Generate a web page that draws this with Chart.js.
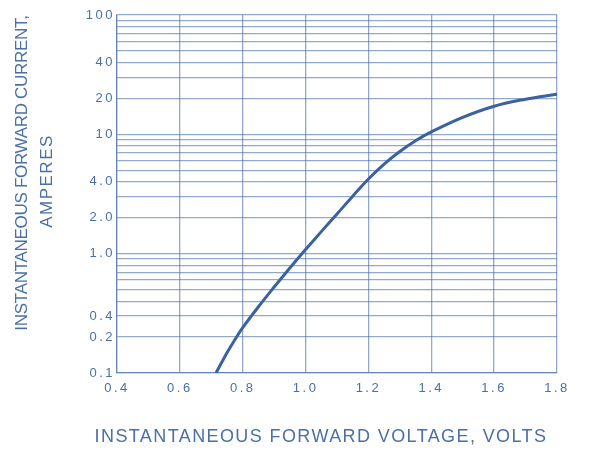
<!DOCTYPE html>
<html>
<head>
<meta charset="utf-8">
<script src="https://cdn.jsdelivr.net/npm/chart.js@4/dist/chart.umd.min.js"></script>
<style>
  html, body { margin: 0; padding: 0; background: #fff; }
  #wrap { width: 596px; height: 450px; }
</style>
</head>
<body>
<div id="wrap"><canvas id="curva"></canvas></div>
<script>
// dados
const tensao = [0.715, 0.75, 0.775, 0.8, 0.85, 0.9, 0.95, 1.0, 1.05, 1.1, 1.15, 1.2, 1.25, 1.3, 1.35, 1.4, 1.5, 1.6, 1.7, 1.8];
const corrente = [0.1, 0.148, 0.19, 0.24, 0.359, 0.525, 0.759, 1.084, 1.53, 2.15, 3.03, 4.23, 5.64, 7.18, 8.83, 10.47, 13.87, 17.2, 19.7, 21.7];

// rotulos do eixo y (como aparecem no original)
const yValores = [0.1, 0.2, 0.3, 1, 2, 4, 10, 20, 40, 100];
const yRotulos = ['0.1', '0.2', '0.4', '1.0', '2.0', '4.0', '10', '20', '40', '100'];
const xRotulos = ['0.4', '0.6', '0.8', '1.0', '1.2', '1.4', '1.6', '1.8'];

const tituloX = 'INSTANTANEOUS FORWARD VOLTAGE, VOLTS';
const tituloY = ['INSTANTANEOUS FORWARD CURRENT,', 'AMPERES'];

const corTexto = '#4a70a6';
const corGrade = 'rgba(74, 112, 170, 0.6)';

// linhas da grade: 1..9 em cada decada
const grade = [];
for (let e = -1; e <= 1; e++) {
    for (let m = 1; m <= 9; m++) {
        grade.push(e < 0 ? m / Math.pow(10, -e) : m * Math.pow(10, e));
    }
}
grade.push(100);

// titulos desenhados a mao (espacamento entre letras)
const titulos = {
    id: 'titulos',
    beforeDraw(chart) {
        chart.ctx.letterSpacing = '2.5px';
    },
    afterDraw(chart) {
        const ctx = chart.ctx;
        ctx.save();
        ctx.fillStyle = corTexto;
        ctx.textAlign = 'center';
        ctx.textBaseline = 'middle';
        ctx.font = '18px "Liberation Sans", Arial, sans-serif';
        ctx.letterSpacing = '1.4px';
        ctx.fillText(tituloX, 321, 437);

        ctx.translate(22, 173);
        ctx.rotate(-Math.PI / 2);
        ctx.font = '17px "Liberation Sans", Arial, sans-serif';
        ctx.letterSpacing = '-0.3px';
        ctx.fillText(tituloY[0], 0, 0);
        ctx.letterSpacing = '1.5px';
        ctx.fillText(tituloY[1], -8, 25);
        ctx.restore();
    }
};

document.addEventListener('DOMContentLoaded', function () {
    const ctx = document.getElementById('curva').getContext('2d');

    new Chart(ctx, {
        type: 'line',
        data: {
            datasets: [{
                data: tensao.map((v, i) => ({ x: v, y: corrente[i] })),
                borderColor: '#3a62a0',
                borderWidth: 3,
                pointRadius: 0,
                fill: false,
                tension: 0.4
            }]
        },
        options: {
            responsive: true,
            maintainAspectRatio: false,
            animation: false,
            layout: {
                padding: { top: 15, right: 39, bottom: 0, left: 0 }
            },
            plugins: {
                legend: { display: false },
                tooltip: { enabled: false }
            },
            scales: {
                x: {
                    type: 'linear',
                    min: 0.4,
                    max: 1.8,
                    afterBuildTicks: (scale) => {
                        scale.ticks = xRotulos.map(t => ({ value: parseFloat(t) }));
                    },
                    afterFit: (scale) => { scale.height = 77; },
                    ticks: {
                        color: corTexto,
                        padding: 8,
                        maxRotation: 0,
                        autoSkip: false,
                        font: { family: '"Liberation Sans", Arial, sans-serif', size: 13 },
                        callback: (v) => {
                            const r = xRotulos.find(t => Math.abs(parseFloat(t) - v) < 1e-6);
                            return r || '';
                        }
                    },
                    grid: { color: corGrade, lineWidth: 1.3, drawTicks: false },
                    border: { color: corGrade, width: 1.3 }
                },
                y: {
                    type: 'logarithmic',
                    min: 0.1,
                    max: 100,
                    afterBuildTicks: (scale) => {
                        scale.ticks = grade.map(v => ({ value: v }));
                    },
                    afterFit: (scale) => { scale.width = 117; },
                    ticks: {
                        color: corTexto,
                        padding: 2,
                        autoSkip: false,
                        font: { family: '"Liberation Sans", Arial, sans-serif', size: 13 },
                        callback: (v) => {
                            const i = yValores.findIndex(t => Math.abs(t - v) < 1e-9);
                            return i >= 0 ? yRotulos[i] : '';
                        }
                    },
                    grid: { color: corGrade, lineWidth: 1.3, drawTicks: false },
                    border: { color: corGrade, width: 1.3 }
                }
            }
        },
        plugins: [titulos]
    });
});
</script>
</body>
</html>
